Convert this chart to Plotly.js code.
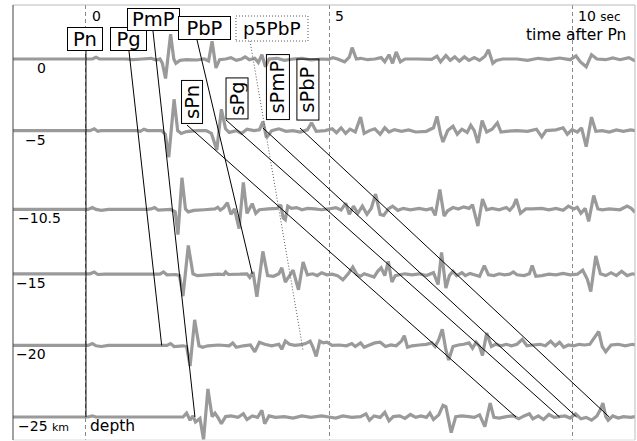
<!DOCTYPE html>
<html><head><meta charset="utf-8">
<script src="https://cdn.plot.ly/plotly-3.0.1.min.js"></script>
<style>html,body{margin:0;padding:0;background:#fff}#chart{width:637px;height:441px}</style>
</head><body><div id="chart"></div>
<script>
// ---- data ----
const depths = [0, -5, -10.5, -15, -20, -25];            // km
const depthLabels = ['0', '−5', '−10.5', '−15', '−20', '−25 <span style="font-size:11px">km</span>'];
const timeTicks = [0, 5, 10];                              // sec after Pn
const timeTickLabels = ['0', '5', '10 <span style="font-size:12px">sec</span>'];

// waveforms: [time after Pn (s), relative amplitude]
const wave0 = [[-1.5,0],[0,0],[0.132,0],[0.206,1.8],[0.277,0],[0.822,0],[0.966,-0.7],[1.151,0],[1.336,0.7],[1.447,-1],[1.521,0],[1.570,-4.3],[1.636,-19.5],[1.739,24.9],[1.805,0],[1.848,-4.3],[1.932,-1.4],[2.068,-0.7],[2.282,-1],[2.432,0],[2.520,-2],[2.592,17.8],[2.672,-8.9],[2.746,-0.7],[2.870,0],[2.980,1.4],[3.089,-1.4],[3.198,0],[3.272,2.1],[3.358,-0.7],[3.470,0.7],[3.542,-3.6],[3.616,4.3],[3.688,-7.8],[3.762,0],[3.930,0.7],[4.076,-1.4],[4.257,0],[4.440,0.7],[4.623,-1],[4.843,0],[4.989,-0.4],[5.075,1.4],[5.170,0],[5.316,-2.8],[5.412,1.8],[5.470,11.4],[5.558,0],[5.644,0.7],[5.790,-0.7],[5.936,0],[6.068,1.4],[6.142,-2.8],[6.228,4.3],[6.302,-4.3],[6.376,7],[6.463,-2.8],[6.557,0],[6.814,0],[7.106,-0.4],[7.215,2.8],[7.289,-2.8],[7.398,3.6],[7.486,-1.4],[7.581,2.1],[7.675,-2.1],[7.778,2.1],[7.873,-1.4],[7.981,1.4],[8.090,-1.4],[8.201,2.8],[8.273,9.2],[8.362,-4.3],[8.434,-1.4],[8.565,0],[8.859,0],[9.077,-1.4],[9.297,0.7],[9.515,-0.7],[9.735,1],[9.953,-0.7],[10.072,3],[10.164,-3],[10.282,-7.8],[10.391,4.3],[10.502,0],[10.684,-0.7],[10.830,1],[10.976,-0.7],[11.159,1.4],[11.268,-1.4],[11.285,-1]];
const wave5 = [[-1.5,0],[0,0],[0.082,0],[0.169,1.8],[0.243,-0.7],[0.308,0],[1.048,0],[1.118,-0.7],[1.192,1.4],[1.264,0],[1.556,0],[1.630,-3.6],[1.702,-26.6],[1.811,31.3],[1.885,0],[1.957,-2.8],[2.068,-1],[2.286,0],[2.469,0],[2.578,-2.8],[2.689,-19.5],[2.783,21.3],[2.869,1.8],[2.943,-1.8],[3.089,0],[3.198,-2.8],[3.309,1.4],[3.453,0],[3.564,0.7],[3.638,8.9],[3.710,-7.1],[3.819,0],[3.965,1.8],[4.111,-0.7],[4.257,0],[4.403,-1.4],[4.551,0.7],[4.637,7.8],[4.732,-0.7],[4.915,0],[5.061,1.8],[5.149,-2.1],[5.244,2.8],[5.338,-2.8],[5.427,1.4],[5.535,-1.4],[5.644,13.5],[5.718,-2.8],[5.827,0],[5.936,1.8],[6.047,-3.6],[6.142,2.8],[6.228,-1.4],[6.339,1],[6.485,-0.7],[6.631,0.7],[6.777,-1.4],[6.997,-0.7],[7.143,2.8],[7.215,14.2],[7.289,-3.6],[7.338,-11.4],[7.435,0],[7.544,4.3],[7.632,-3.6],[7.727,1.4],[7.836,-1.8],[7.909,5.3],[7.981,0],[8.056,-12.4],[8.142,10],[8.236,-1.4],[8.347,1.4],[8.456,7.8],[8.530,-1.4],[8.639,-0.7],[8.859,0],[9.077,-0.7],[9.260,1.4],[9.369,-6.4],[9.457,0],[9.661,0.7],[9.807,2.8],[9.895,-3.6],[9.990,1],[10.099,-1.4],[10.187,2.8],[10.282,-16],[10.391,13.5],[10.479,-0.7],[10.611,0],[10.756,-1.4],[10.902,0.7],[11.048,-0.7],[11.194,0.7],[11.285,0]];
const wave10 = [[-1.5,0],[0,0],[0.041,0],[0.132,1.8],[0.206,0],[0.314,-1],[0.460,0],[1.264,0],[1.336,0.4],[1.410,1.8],[1.484,-0.7],[1.739,0],[1.834,-2.5],[1.891,-25.2],[1.973,31.6],[2.045,0.4],[2.103,-2.5],[2.214,-1],[2.432,-0.4],[2.652,0.4],[2.709,2.1],[2.761,-0.7],[2.834,1.8],[2.907,6.7],[2.980,-5],[3.052,0.4],[3.147,-19.2],[3.235,27],[3.309,-4],[3.418,5.7],[3.490,-3.9],[3.564,-0.4],[3.747,0.4],[3.930,1],[4.002,4.6],[4.053,-8.5],[4.097,-10.3],[4.148,3.2],[4.222,1],[4.331,1.8],[4.440,-0.4],[4.551,1],[4.697,0.4],[4.843,-0.4],[4.989,0.4],[5.135,1.8],[5.244,-0.7],[5.338,6],[5.412,-5],[5.498,3.2],[5.587,-3.9],[5.681,3.2],[5.776,-5],[5.864,1],[5.953,15.3],[6.047,-5],[6.119,-6],[6.214,0.4],[6.302,3.2],[6.411,-1],[6.522,1],[6.668,-0.4],[6.851,1],[6.997,-0.4],[7.106,1],[7.178,-6],[7.274,19.9],[7.361,-6.7],[7.435,-1.4],[7.544,1.8],[7.653,0.4],[7.764,2.5],[7.873,1],[7.945,4.6],[8.056,-16.7],[8.150,10.3],[8.236,-0.4],[8.347,1],[8.493,-0.4],[8.639,1.8],[8.711,-1],[8.785,3.2],[8.843,10.3],[8.931,-3.9],[9.040,0.4],[9.186,0.4],[9.369,1],[9.515,-0.4],[9.661,1],[9.807,-1],[9.916,3.2],[10.027,0.4],[10.099,2.1],[10.173,-3.9],[10.261,1],[10.333,-12],[10.436,13.9],[10.522,0.4],[10.611,-0.4],[10.756,0.4],[10.976,-0.4],[11.122,3.2],[11.209,1],[11.285,-3]];
const wave15 = [[-1.5,0],[0,0],[0.082,0],[0.169,1.8],[0.243,-0.7],[0.391,-0.4],[1.336,-0.4],[1.519,-0.4],[1.593,1.8],[1.665,-1],[1.848,-0.7],[1.922,-1.8],[1.994,-22.4],[2.103,28.4],[2.199,0],[2.286,-1.8],[2.506,-1],[2.724,-0.4],[2.834,-0.7],[2.869,1.8],[2.929,-0.7],[3.163,-0.4],[3.309,0],[3.367,-3.6],[3.433,1.8],[3.513,-23],[3.636,22.4],[3.733,-1.8],[3.856,-2.5],[3.965,0],[4.025,6],[4.097,-8.2],[4.185,-1.8],[4.257,3.6],[4.368,-16],[4.463,11.7],[4.551,-1],[4.660,0],[4.754,-1.8],[4.843,1.1],[4.952,-1],[5.061,-0.4],[5.170,-1.8],[5.281,-6],[5.390,0],[5.484,6.7],[5.572,-1],[5.644,-2.5],[5.718,0],[5.827,-1.8],[5.922,-3.2],[5.996,2.5],[6.068,6],[6.142,-1.8],[6.214,12.4],[6.288,-8.2],[6.360,-1.8],[6.448,-1],[6.557,0],[6.703,-1],[6.851,0],[6.997,-1.8],[7.143,1.1],[7.237,-10.7],[7.309,21.3],[7.398,-14.2],[7.470,-1.8],[7.544,2.5],[7.618,-1.8],[7.727,1.1],[7.799,-1.8],[7.893,0.4],[7.981,-1],[8.090,-2.5],[8.187,8.2],[8.273,-1],[8.384,-1.8],[8.493,0],[8.602,-1],[8.711,-0.4],[8.785,1.8],[8.859,-1],[9.005,-1.8],[9.114,0],[9.172,8.2],[9.246,-2.5],[9.369,-1.8],[9.515,-0.4],[9.661,-1],[9.807,0.4],[9.953,-1],[10.099,-0.4],[10.210,3.6],[10.304,-5.3],[10.376,-17.8],[10.479,17.8],[10.574,0],[10.684,-1.8],[10.793,1.1],[10.902,-1.8],[11.011,2.5],[11.122,-1.8],[11.231,0],[11.285,-0.7]];
const wave20 = [[-1.5,0],[0,0],[0.041,0],[0.132,1.8],[0.206,-0.4],[0.314,-1.1],[0.460,0],[1.556,0],[1.665,0],[1.739,1.8],[1.811,-1.1],[1.994,-0.4],[2.068,-1.1],[2.140,-20.6],[2.234,25.6],[2.323,-0.4],[2.397,-1.8],[2.506,-0.4],[2.724,0.4],[2.943,-0.4],[3.017,2.5],[3.089,-1.8],[3.235,-0.4],[3.381,0.4],[3.470,-6.4],[3.564,3.2],[3.673,1.1],[3.819,-0.4],[3.965,1.1],[4.025,-3.9],[4.097,4.3],[4.185,1.1],[4.294,0],[4.419,0.7],[4.514,1.8],[4.608,4.3],[4.660,-1.1],[4.732,-11],[4.806,4.3],[4.878,2.5],[4.952,3.2],[5.061,0],[5.207,0.4],[5.353,-0.4],[5.464,1.8],[5.535,-1.1],[5.644,2.5],[5.718,-1.8],[5.827,0.4],[5.936,2.5],[6.047,3.2],[6.156,-1.1],[6.265,0.4],[6.376,-0.4],[6.485,4.3],[6.543,9.6],[6.608,-1.8],[6.703,-0.4],[6.851,0.4],[6.997,1.1],[7.106,2.5],[7.178,-1.1],[7.252,6],[7.324,16],[7.398,-4.6],[7.455,-14.6],[7.544,-1.1],[7.653,0.4],[7.764,1.1],[7.873,2.5],[7.945,-2.8],[8.019,3.2],[8.090,-1.1],[8.150,-10],[8.236,12.4],[8.333,-1.1],[8.419,1.1],[8.530,-0.4],[8.639,1.1],[8.748,-0.4],[8.859,1.1],[8.968,6],[9.063,-0.4],[9.186,0.4],[9.332,1.1],[9.443,-0.4],[9.552,4.3],[9.647,-0.4],[9.735,3.2],[9.821,-1.8],[9.916,0.4],[10.027,-0.4],[10.136,1.1],[10.247,0.4],[10.356,1.1],[10.450,7.8],[10.539,13.9],[10.611,-1.1],[10.684,-6.4],[10.793,0.4],[10.939,1.1],[11.085,-0.4],[11.231,1.1],[11.285,0.4]];
const wave25 = [[-1.5,0],[0,0],[0.041,0],[0.132,1.1],[0.206,0],[1.994,0],[2.068,3.9],[2.140,-3.2],[2.199,1.1],[2.251,-5],[2.343,-1.4],[2.417,-22.7],[2.506,28],[2.592,0.4],[2.652,3.9],[2.724,-1.4],[2.783,-6.7],[2.869,0.4],[2.980,1.1],[3.126,-0.4],[3.235,3.2],[3.309,-2.5],[3.418,1.1],[3.527,-0.4],[3.616,6.7],[3.673,-6.7],[3.762,1.1],[3.893,-0.4],[4.076,0.4],[4.257,-1.1],[4.440,1.1],[4.623,-0.4],[4.843,1.1],[4.989,0],[5.135,-1.1],[5.281,1.1],[5.464,-0.4],[5.644,0.4],[5.755,3.2],[5.827,-3.2],[5.922,1.1],[6.047,-0.4],[6.142,4.6],[6.228,-3.9],[6.317,0.4],[6.448,1.1],[6.557,-1.4],[6.668,2.5],[6.777,-0.4],[6.886,1.1],[6.997,-0.4],[7.069,3.9],[7.143,-2.5],[7.252,2.1],[7.338,11.7],[7.398,10.3],[7.507,-15.6],[7.601,0.4],[7.727,1.1],[7.873,0.4],[7.981,-0.4],[8.090,2.1],[8.199,-9.6],[8.308,13.9],[8.384,-0.4],[8.493,-1.1],[8.639,0.4],[8.785,1.1],[8.894,-1.8],[9.005,1.1],[9.114,3.2],[9.186,-1.8],[9.297,1.1],[9.406,-2.5],[9.515,2.5],[9.624,-0.4],[9.735,0.4],[9.844,1.1],[9.953,-1.1],[10.064,3.2],[10.173,-1.8],[10.282,-0.4],[10.391,-3.2],[10.502,1.1],[10.574,7.5],[10.625,13.9],[10.684,0.4],[10.733,-3.2],[10.830,1.1],[10.939,-1.1],[11.048,0.4],[11.194,-0.4],[11.285,0.4]];
const waves = [wave0, wave5, wave10, wave15, wave20, wave25];

// phase travel-time lines: [time (s), depth (km)]
const phaseNames = ['Pn', 'Pg', 'PmP', 'PbP', 'p5PbP', 'sPn', 'sPg', 'sPmP', 'sPbP'];
const linePn    = [[0, 0.56], [0, -25]];
const linePg    = [[0.884, 0.56], [1.556, -20]];
const linePmP   = [[1.377, 1.96], [2.240, -25]];
const linePbP   = [[2.282, 1.33], [3.418, -15]];
const lineP5PbP = [[3.372, 1.26], [4.460, -20.3]];
const lineSPn   = [[2.076, -4.61], [8.839, -25]];
const lineSPg   = [[2.878, -4.26], [9.735, -25]];
const lineSPmP  = [[3.638, -4.82], [10.084, -25]];
const lineSPbP  = [[4.399, -4.82], [10.756, -25]];
const phaseLines = [linePn, linePg, linePmP, linePbP, lineP5PbP, lineSPn, lineSPg, lineSPmP, lineSPbP];

// ---- drawing ----
const GAIN = 1 / 14.32;
const FONT = 'DejaVu Sans';
const traces = [];
waves.forEach((w, i) => {
  traces.push({
    type: 'scatter', mode: 'lines', hoverinfo: 'skip',
    x: w.map(p => p[0]), y: w.map(p => depths[i] + p[1] * GAIN),
    line: {color: '#9a9a9a', width: 3.2, simplify: false}
  });
});
phaseLines.forEach((l, i) => {
  const dotted = phaseNames[i] === 'p5PbP';
  traces.push({
    type: 'scatter', mode: 'lines', hoverinfo: 'skip',
    x: l.map(p => p[0]), y: l.map(p => p[1]),
    line: {color: dotted ? '#555' : '#000', width: 1, dash: dotted ? '1px,2px' : 'solid'}
  });
});

const ann = [];
// phase label boxes [name, t, d, w, h, angle]
const boxes = [
  ['Pn', -0.021, 1.40, 34, 22, 0],
  ['Pg', 0.874, 1.40, 35, 22, 0],
  ['PmP', 1.387, 2.76, 51, 21, 0],
  ['PbP', 2.436, 2.17, 51, 22, 0],
  ['sPn', 2.179, -3.00, 42, 20, -90],
  ['sPg', 3.114, -2.72, 40, 21, -90],
  ['sPmP', 3.947, -1.96, 64, 22, -90],
  ['sPbP', 4.553, -2.10, 60, 21, -90]
];
boxes.forEach(b => ann.push({
  text: b[0], x: b[1], y: b[2], xref: 'x', yref: 'y', showarrow: false,
  xanchor: 'center', yanchor: 'middle', width: b[3], height: b[4], textangle: b[5],
  bordercolor: '#000', borderwidth: 1, borderpad: 0,
  bgcolor: b[5] === 0 ? '#fff' : 'rgba(0,0,0,0)',
  font: {family: FONT, size: 19.5, color: '#000'}
}));
ann.push({text: 'p5PbP', x: 3.823, y: 2.13, xref: 'x', yref: 'y', showarrow: false,
  xanchor: 'center', yanchor: 'middle', font: {family: FONT, size: 18.5, color: '#000'}});

// depth labels
depths.forEach((d, i) => {
  const left = (i === 2 || i === 5);
  ann.push({text: depthLabels[i], x: left ? -1.44 : -0.78, y: d, yshift: -9,
    xref: 'x', yref: 'y', showarrow: false, xanchor: left ? 'left' : 'right', yanchor: 'middle',
    font: {family: FONT, size: 14, color: '#000'}});
});
// time labels
timeTicks.forEach((t, i) => ann.push({text: timeTickLabels[i], x: t, xshift: 4, y: 3.0,
  xref: 'x', yref: 'y', showarrow: false, xanchor: 'left', yanchor: 'middle',
  font: {family: FONT, size: 14, color: '#000'}}));
ann.push({text: 'time after Pn', x: 11.14, y: 1.68, xref: 'x', yref: 'y', showarrow: false,
  xanchor: 'right', yanchor: 'middle', font: {family: FONT, size: 15.5, color: '#000'}});
ann.push({text: 'depth', x: 0.04, y: -25, yshift: -9, xref: 'x', yref: 'y', showarrow: false,
  xanchor: 'left', yanchor: 'middle', font: {family: FONT, size: 15.5, color: '#000'}});

const shapes = [
  {type: 'rect', xref: 'x', yref: 'y', x0: 3.083, x1: 4.563, y0: 1.257, y1: 3.003,
   line: {color: '#555', width: 1, dash: '1px,2px'}, fillcolor: 'rgba(0,0,0,0)'},
  {type: 'line', xref: 'paper', yref: 'paper', x0: 0, x1: 1, y0: 1, y1: 1, line: {color: '#bbb', width: 1}},
  {type: 'line', xref: 'paper', yref: 'paper', x0: 1, x1: 1, y0: 0, y1: 1, line: {color: '#bbb', width: 1}},
  {type: 'line', xref: 'paper', yref: 'paper', x0: 0, x1: 1, y0: 0, y1: 0, line: {color: '#ddd', width: 1}},
  {type: 'line', xref: 'paper', yref: 'paper', x0: 0, x1: 0, y0: 0, y1: 1, line: {color: '#444', width: 1}}
];

const layout = {
  width: 637, height: 441, margin: {l: 13, r: 2, t: 5, b: 1},
  paper_bgcolor: '#fff', plot_bgcolor: '#fff', showlegend: false,
  xaxis: {range: [-1.5, 11.285], tickvals: timeTicks, showticklabels: false, ticks: '',
    showgrid: true, gridcolor: '#888', gridwidth: 1, griddash: '4px,3px', zeroline: false, showline: false},
  yaxis: {range: [-26.606, 3.771], showticklabels: false, ticks: '', showgrid: false, zeroline: false, showline: false},
  annotations: ann, shapes: shapes
};
Plotly.newPlot('chart', traces, layout, {displayModeBar: false, staticPlot: true});
</script></body></html>
